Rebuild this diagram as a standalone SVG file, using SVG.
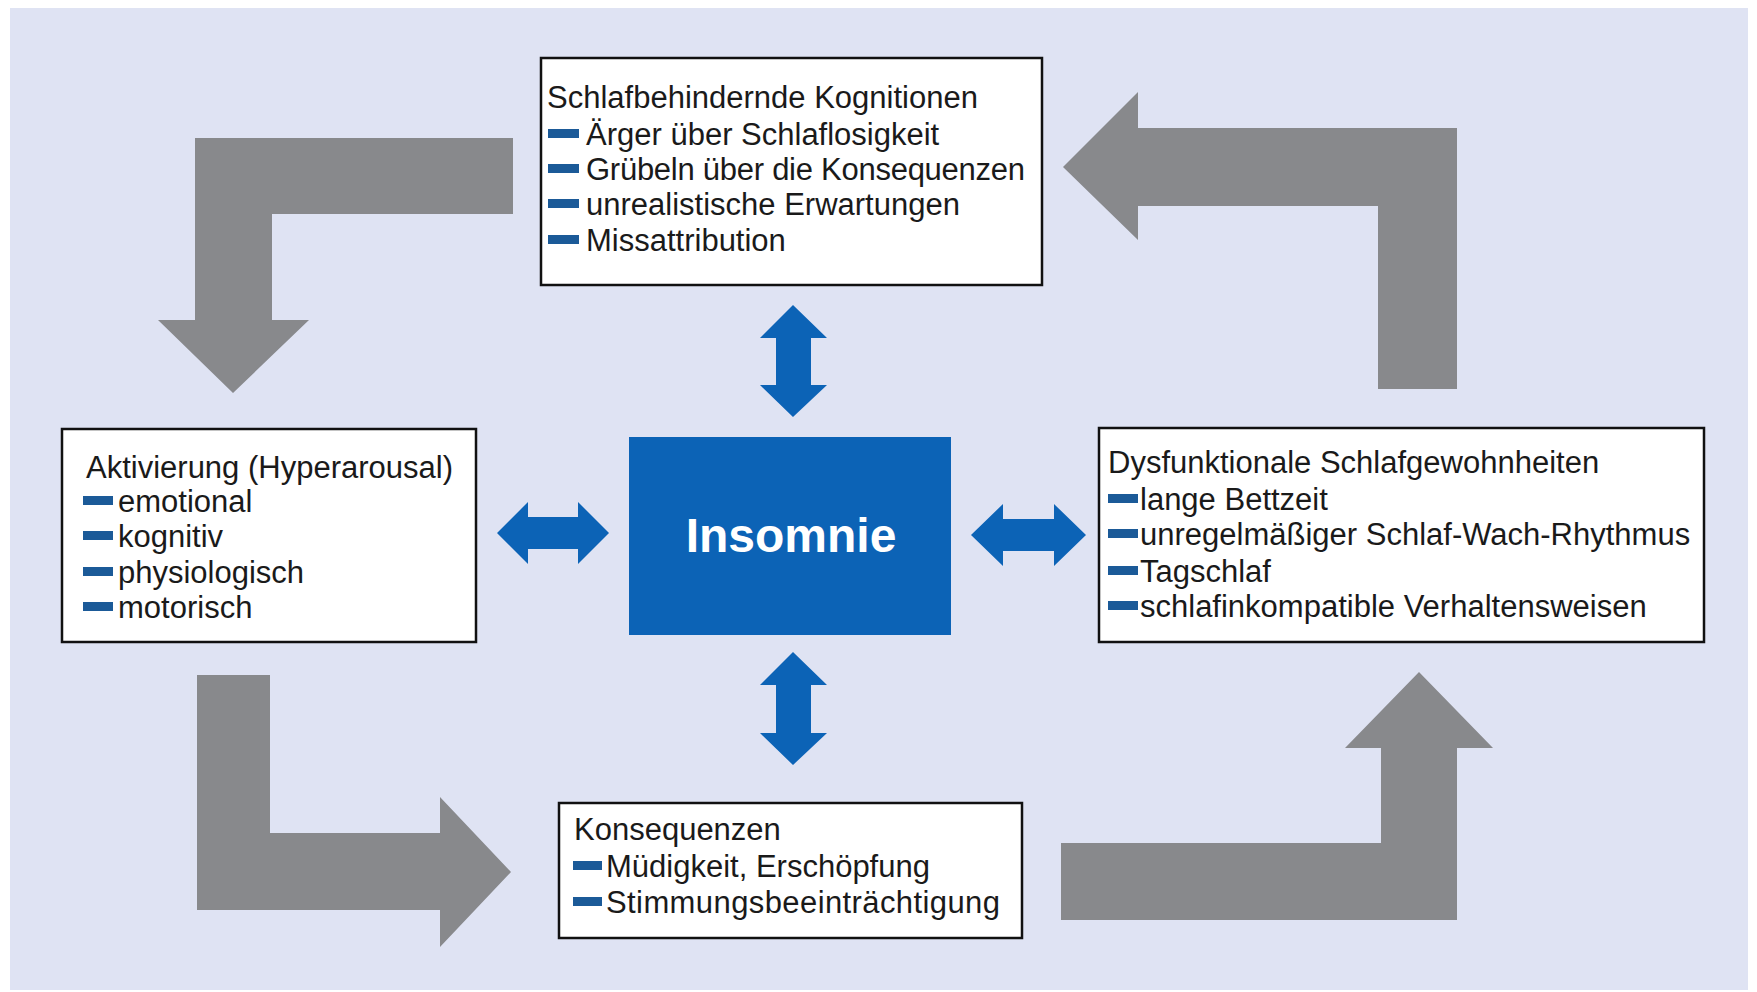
<svg xmlns="http://www.w3.org/2000/svg" width="1757" height="992" viewBox="0 0 1757 992">
  <style>
    .box { fill: #ffffff; stroke: #111111; stroke-width: 2.5; }
    .t { font-family: "Liberation Sans", Arial, sans-serif; font-size: 31px; fill: #1a1a1a; }
    .b { fill: #1b5a98; }
    .gray { fill: #88898c; }
    .blue { fill: #0c63b6; }
    .core { font-family: "Liberation Sans", Arial, sans-serif; font-size: 48px; font-weight: bold; fill: #ffffff; }
  </style>
  <rect x="0" y="0" width="1757" height="992" fill="#ffffff"/>
  <rect x="10" y="8" width="1738" height="982" fill="#dfe3f3"/>

  <g id="connectors">
    <polygon class="gray" points="513,138 195,138 195,320 158,320 233,393 309,320 272,320 272,214 513,214"/>
    <polygon class="gray" points="1063,167 1138,92 1138,128 1457,128 1457,389 1378,389 1378,206 1138,206 1138,240"/>
    <polygon class="gray" points="197,675 270,675 270,833 440,833 440,797 511,872 440,947 440,910 197,910"/>
    <polygon class="gray" points="1061,843 1381,843 1381,748 1345,748 1419,672 1493,748 1457,748 1457,920 1061,920"/>
    <polygon class="blue" points="497,533 528,502 528,517 578,517 578,502 609,533 578,564 578,549 528,549 528,564"/>
    <polygon class="blue" points="971,535 1003,504 1003,519 1054,519 1054,504 1086,535 1054,566 1054,551 1003,551 1003,566"/>
    <polygon class="blue" points="793,305 827,338 811,338 811,385 827,385 793,417 760,385 776,385 776,338 760,338"/>
    <polygon class="blue" points="793,652 827,685 811,685 811,733 827,733 793,765 760,733 776,733 776,685 760,685"/>
  </g>

  <g id="kognitionen">
    <rect class="box" x="541" y="58" width="501" height="227"/>
    <text class="t" x="547" y="108">Schlafbehindernde Kognitionen</text>
    <rect class="b" x="548" y="129" width="31" height="9"/>
    <text class="t" x="586" y="145">Ärger über Schlaflosigkeit</text>
    <rect class="b" x="548" y="164" width="31" height="9"/>
    <text class="t" x="586" y="180" textLength="439">Grübeln über die Konsequenzen</text>
    <rect class="b" x="548" y="199" width="31" height="9"/>
    <text class="t" x="586" y="215">unrealistische Erwartungen</text>
    <rect class="b" x="548" y="235" width="31" height="9"/>
    <text class="t" x="586" y="251">Missattribution</text>
  </g>

  <g id="aktivierung">
    <rect class="box" x="62" y="429" width="414" height="213"/>
    <text class="t" x="86" y="478">Aktivierung (Hyperarousal)</text>
    <rect class="b" x="83" y="496" width="30" height="9"/>
    <text class="t" x="118" y="512">emotional</text>
    <rect class="b" x="83" y="531" width="30" height="9"/>
    <text class="t" x="118" y="547">kognitiv</text>
    <rect class="b" x="83" y="567" width="30" height="9"/>
    <text class="t" x="118" y="583">physiologisch</text>
    <rect class="b" x="83" y="602" width="30" height="9"/>
    <text class="t" x="118" y="618">motorisch</text>
  </g>

  <g id="insomnie">
    <rect x="629" y="437" width="322" height="198" fill="#0c63b6"/>
    <text class="core" x="791" y="552" text-anchor="middle">Insomnie</text>
  </g>

  <g id="gewohnheiten">
    <rect class="box" x="1099" y="428" width="605" height="214"/>
    <text class="t" x="1108" y="473">Dysfunktionale Schlafgewohnheiten</text>
    <rect class="b" x="1108" y="494" width="30" height="9"/>
    <text class="t" x="1140" y="510">lange Bettzeit</text>
    <rect class="b" x="1108" y="529" width="30" height="9"/>
    <text class="t" x="1140" y="545">unregelmäßiger Schlaf-Wach-Rhythmus</text>
    <rect class="b" x="1108" y="566" width="30" height="9"/>
    <text class="t" x="1140" y="582">Tagschlaf</text>
    <rect class="b" x="1108" y="601" width="30" height="9"/>
    <text class="t" x="1140" y="617">schlafinkompatible Verhaltensweisen</text>
  </g>

  <g id="konsequenzen">
    <rect class="box" x="559" y="803" width="463" height="135"/>
    <text class="t" x="574" y="840">Konsequenzen</text>
    <rect class="b" x="573" y="861" width="29" height="9"/>
    <text class="t" x="606" y="877">Müdigkeit, Erschöpfung</text>
    <rect class="b" x="573" y="897" width="29" height="9"/>
    <text class="t" x="606" y="913" textLength="394">Stimmungsbeeinträchtigung</text>
  </g>
</svg>
